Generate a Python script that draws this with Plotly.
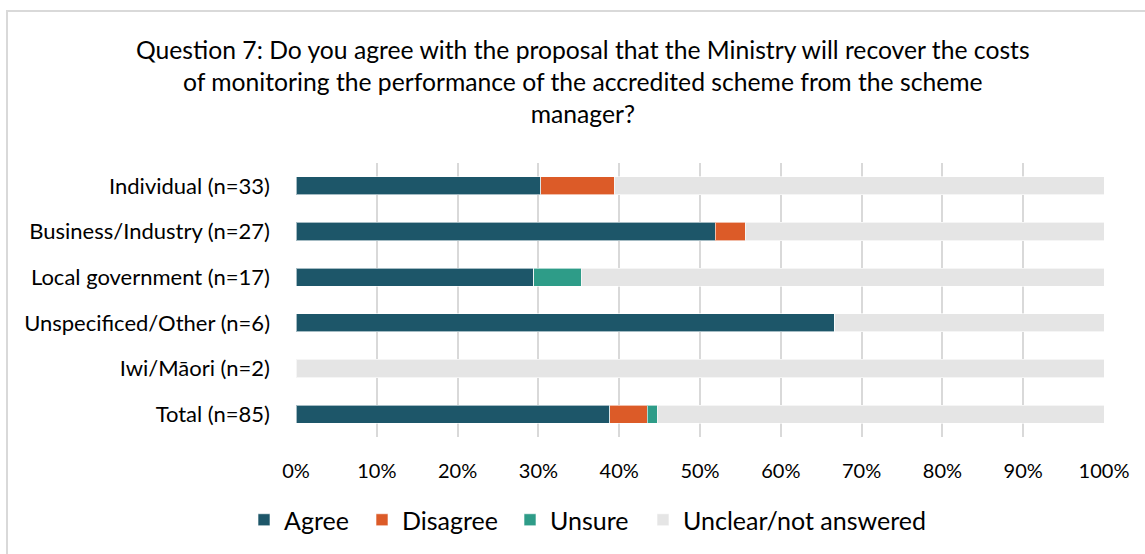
import plotly.graph_objects as go

# Respondent groups (top to bottom)
categories = [
    "Individual (n=33)",
    "Business/Industry (n=27)",
    "Local government (n=17)",
    "Unspecificed/Other (n=6)",
    "Iwi/Māori (n=2)",
    "Total (n=85)",
]

# Share of responses (%) per group
agree = [30.3, 51.9, 29.4, 66.7, 0.0, 38.8]
disagree = [9.1, 3.7, 0.0, 0.0, 0.0, 4.7]
unsure = [0.0, 0.0, 5.9, 0.0, 0.0, 1.2]
unclear = [60.6, 44.4, 64.7, 33.3, 100.0, 55.3]

tick_vals = [0, 10, 20, 30, 40, 50, 60, 70, 80, 90, 100]
tick_text = ["0%", "10%", "20%", "30%", "40%", "50%", "60%", "70%", "80%", "90%", "100%"]

series = [
    ("Agree", agree, "#1D5669"),
    ("Disagree", disagree, "#DC5B28"),
    ("Unsure", unsure, "#2E9C88"),
    ("Unclear/not answered", unclear, "#E5E5E5"),
]

FONT = "Lato, Calibri, 'Open Sans', sans-serif"

W, H = 1145, 554
# plot area in pixels
L, R, T, B = 296, 1104, 163, 437
PW, PH = R - L, B - T


def px_x(px):
    return (px - L) / PW


def px_y(py):
    return (B - py) / PH


# one legend per series so each entry sits at its own spot
legend_left = [244, 362, 510, 643]
legend_ids = ["legend", "legend2", "legend3", "legend4"]

fig = go.Figure()
for (name, vals, color), lid in zip(series, legend_ids):
    fig.add_trace(go.Bar(
        y=categories,
        x=vals,
        name=name,
        orientation="h",
        legend=lid,
        showlegend=True,
        marker=dict(color=color, line=dict(color="rgba(255,255,255,0.6)", width=1)),
    ))

legend_common = dict(
    orientation="h",
    xref="container",
    yref="container",
    yanchor="middle",
    y=1 - 520 / H,
    xanchor="left",
    font=dict(family=FONT, size=25),
    itemwidth=30,
    bgcolor="rgba(0,0,0,0)",
)

layout_legends = {}
for lid, left in zip(legend_ids, legend_left):
    layout_legends[lid] = dict(legend_common, x=left / W)

fig.update_layout(
    barmode="stack",
    bargap=0.6,
    showlegend=True,
    width=W,
    height=H,
    margin=dict(l=L, r=W - R, t=T, b=H - B),
    paper_bgcolor="white",
    plot_bgcolor="white",
    font=dict(family=FONT, size=22, color="#000000"),
    title=dict(
        text=("Question 7: Do you agree with the proposal that the Ministry will recover the costs<br>"
              "of monitoring the performance of the accredited scheme from the scheme<br>manager?"),
        x=0.509,
        xanchor="center",
        y=1 - 59 / H,
        yanchor="top",
        font=dict(family=FONT, size=24.7, color="#000000"),
    ),
    xaxis=dict(
        range=[0, 100],
        tickvals=tick_vals,
        ticktext=tick_text,
        showgrid=True,
        gridcolor="#D9D9D9",
        gridwidth=2,
        zeroline=False,
        showline=False,
        ticks="",
        ticklabelstandoff=20,
        tickfont=dict(family=FONT, size=20),
        fixedrange=True,
    ),
    yaxis=dict(
        categoryorder="array",
        categoryarray=categories,
        autorange="reversed",
        showgrid=False,
        zeroline=False,
        showline=False,
        ticks="",
        ticklabelstandoff=25,
        tickfont=dict(family=FONT, size=22),
    ),
    shapes=[
        dict(
            type="rect",
            xref="paper",
            yref="paper",
            x0=px_x(7),
            x1=px_x(1160),
            y0=px_y(570),
            y1=px_y(11),
            line=dict(color="#D9D9D9", width=2),
            fillcolor="rgba(0,0,0,0)",
            layer="below",
        )
    ],
    **layout_legends,
)

fig.write_html("out.html")
